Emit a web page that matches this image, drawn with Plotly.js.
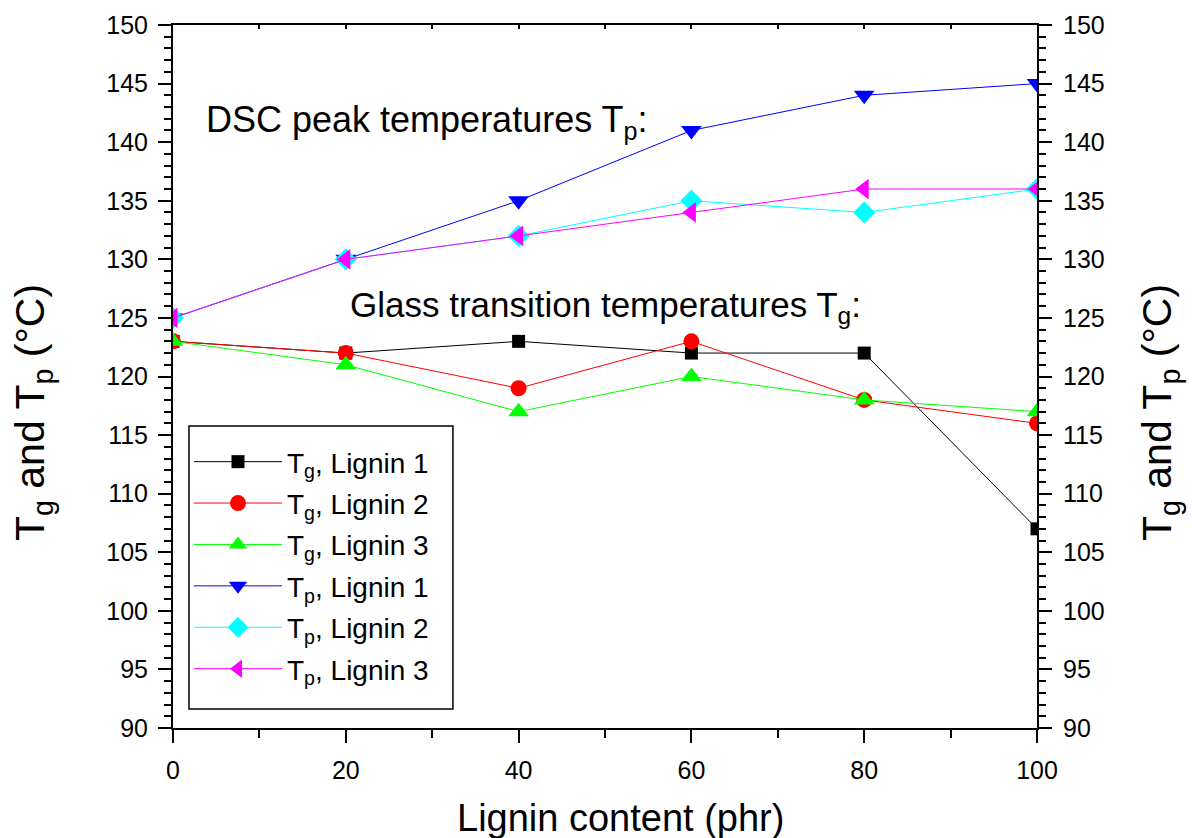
<!DOCTYPE html>
<html>
<head>
<meta charset="utf-8">
<script src="https://cdn.plot.ly/plotly-3.0.1.min.js"></script>
<style>html,body{margin:0;padding:0;background:#fff;}#chart{width:1192px;height:838px;}</style>
</head>
<body>
<div id="chart"></div>
<script>
const ligninContent = [0, 20, 40, 60, 80, 100];
const tgLignin1 = [123, 122, 123, 122, 122, 107];
const tgLignin2 = [123, 122, 119, 123, 118, 116];
const tgLignin3 = [123, 121, 117, 120, 118, 117];
const tpLignin1 = [125, 130, 135, 141, 144, 145];
const tpLignin2 = [125, 130, 132, 135, 134, 136];
const tpLignin3 = [125, 130, 132, 134, 136, 136];

const seriesNames = [
  'T<sub>g</sub>, Lignin 1', 'T<sub>g</sub>, Lignin 2', 'T<sub>g</sub>, Lignin 3',
  'T<sub>p</sub>, Lignin 1', 'T<sub>p</sub>, Lignin 2', 'T<sub>p</sub>, Lignin 3'
];
const seriesValues = [tgLignin1, tgLignin2, tgLignin3, tpLignin1, tpLignin2, tpLignin3];
const colors = ['#000000', '#ff0000', '#00ff00', '#0000ff', '#00ffff', '#ff00ff'];
const symbols = ['square', 'circle', 'triangle-up', 'triangle-down', 'diamond', 'triangle-left'];
const sizes = [13, 16, 18, 18, 17, 18];

const traces = seriesValues.map((vals, i) => ({
  x: ligninContent, y: vals, name: seriesNames[i], type: 'scatter', mode: 'lines+markers',
  xaxis: i < 3 ? 'x' : 'x2', yaxis: i < 3 ? 'y' : 'y2',
  legendgroup: 'g' + i,
  line: {color: colors[i], width: 1},
  marker: {color: colors[i], symbol: symbols[i], size: sizes[i]},
  cliponaxis: true
}));

const F = 'Arial, Liberation Sans, Helvetica, sans-serif';
const yTitle = 'T<sub>g</sub> and T<sub>p</sub> (°C)';

const tickCommon = {
  ticks: 'outside', ticklen: 13, tickwidth: 2, tickcolor: '#000',
  showline: true, linecolor: '#000', linewidth: 2, showgrid: false, zeroline: false
};

const layout = {
  width: 1192, height: 838,
  margin: {l: 173, r: 155, t: 25, b: 110},
  paper_bgcolor: '#fff', plot_bgcolor: '#fff',
  font: {family: F, color: '#000'},
  showlegend: true,
  legend: {
    x: 0.0185, y: 0.414, xanchor: 'left', yanchor: 'top',
    borderwidth: 0, bgcolor: 'rgba(0,0,0,0)',
    font: {family: F, size: 28, color: '#000'},
    itemwidth: 88, tracegroupgap: 2, traceorder: 'grouped'
  },
  shapes: [
    {type: 'rect', xref: 'paper', yref: 'paper', x0: 0.0185, x1: 0.324, y0: 0.027, y1: 0.4296,
     line: {color: '#000', width: 1.5}, fillcolor: '#fff', layer: 'above'}
  ],
  xaxis: Object.assign({}, tickCommon, {
    range: [0, 100], dtick: 20, tick0: 0,
    minor: {dtick: 10, ticks: 'outside', ticklen: 8, tickwidth: 2, tickcolor: '#000'},
    tickfont: {family: F, size: 25}, ticklabelstandoff: 6
  }),
  xaxis2: {
    overlaying: 'x', side: 'top', range: [0, 100], dtick: 10, tick0: 0,
    ticks: 'inside', ticklen: 4, tickwidth: 2, tickcolor: '#000',
    showline: true, linecolor: '#000', linewidth: 2, showgrid: false, zeroline: false,
    showticklabels: false
  },
  yaxis: Object.assign({}, tickCommon, {
    range: [90, 150], dtick: 5, tick0: 90,
    minor: {dtick: 1, ticks: 'outside', ticklen: 7, tickwidth: 2, tickcolor: '#000'},
    tickfont: {family: F, size: 25}, ticklabelstandoff: 5
  }),
  yaxis2: Object.assign({}, tickCommon, {
    overlaying: 'y', side: 'right', range: [90, 150], dtick: 5, tick0: 90,
    minor: {dtick: 1, ticks: 'outside', ticklen: 7, tickwidth: 2, tickcolor: '#000'},
    tickfont: {family: F, size: 25}, ticklabelstandoff: 6
  }),
  annotations: [
    {text: 'DSC peak temperatures T<sub>p</sub>:', x: 3.6, y: 141.7, xref: 'x', yref: 'y',
     xanchor: 'left', yanchor: 'middle', showarrow: false, font: {family: F, size: 36}},
    {text: 'Glass transition temperatures T<sub>g</sub>:', x: 20.2, y: 125.9, xref: 'x', yref: 'y',
     xanchor: 'left', yanchor: 'middle', showarrow: false, font: {family: F, size: 35}},
    {text: yTitle, textangle: -90, x: -0.162, y: 0.448, xref: 'paper', yref: 'paper',
     xanchor: 'center', yanchor: 'middle', showarrow: false, font: {family: F, size: 41}},
    {text: yTitle, textangle: -90, x: 1.1424, y: 0.448, xref: 'paper', yref: 'paper',
     xanchor: 'center', yanchor: 'middle', showarrow: false, font: {family: F, size: 41}},
    {text: 'Lignin content (phr)', x: 0.5185, y: -0.128, xref: 'paper', yref: 'paper',
     xanchor: 'center', yanchor: 'middle', showarrow: false, font: {family: F, size: 38}}
  ]
};

Plotly.newPlot('chart', traces, layout, {displayModeBar: false, staticPlot: true});
</script>
</body>
</html>
